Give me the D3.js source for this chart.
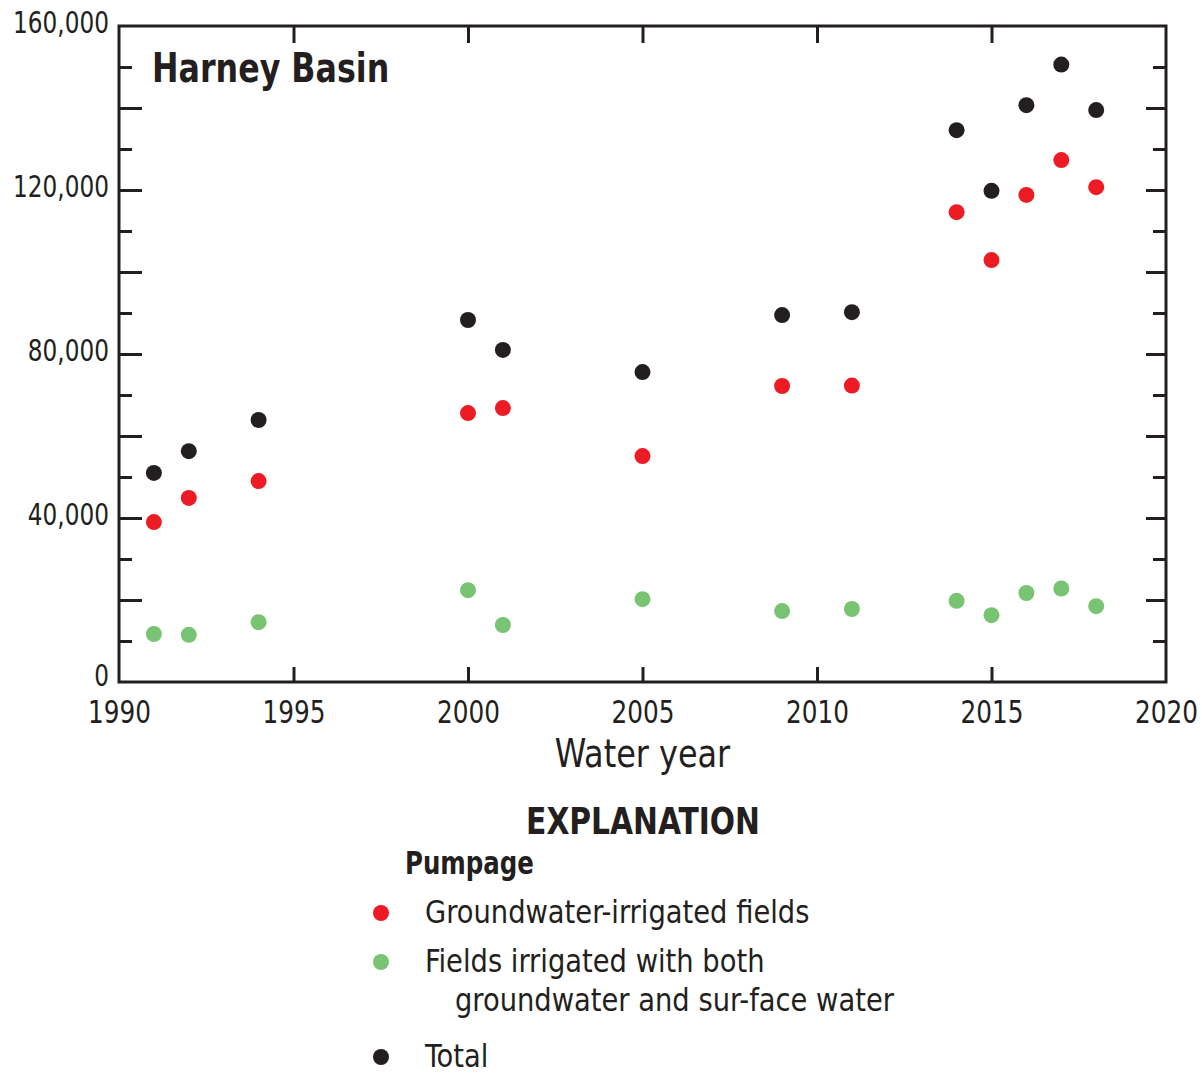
<!DOCTYPE html>
<html>
<head>
<meta charset="utf-8">
<script src="https://cdn.jsdelivr.net/npm/d3@7"></script>
<style>
  body { margin: 0; background: #fff; }
  svg text { font-family: "DejaVu Sans Condensed", "DejaVu Sans", sans-serif; fill: #231f20; }
</style>
</head>
<body>
<div id="wrapper"></div>
<script>
// data
const years = [1991, 1992, 1994, 2000, 2001, 2005, 2009, 2011, 2014, 2015, 2016, 2017, 2018]
const groundwater = [39000, 44900, 49000, 65600, 66800, 55100, 72200, 72300, 114600, 102900, 118800, 127300, 120700]
const bothSources = [11700, 11500, 14600, 22400, 13900, 20200, 17300, 17800, 19800, 16300, 21700, 22800, 18500]
const total = [51000, 56300, 63900, 88300, 81000, 75600, 89500, 90200, 134600, 119800, 140700, 150600, 139500]

const xTicks = [1990, 1995, 2000, 2005, 2010, 2015, 2020]
const yLabelTicks = [0, 40000, 80000, 120000, 160000]
const yMajorTicks = [20000, 40000, 60000, 80000, 100000, 120000, 140000]
const yMinorTicks = [10000, 30000, 50000, 70000, 90000, 110000, 130000, 150000]

const legendItems = [
    {label: ["Groundwater-irrigated fields"], color: "#ed1c24"},
    {label: ["Fields irrigated with both", "groundwater and sur-face water"], color: "#78c473"},
    {label: ["Total"], color: "#231f20"},
]

const series = [
    {values: groundwater, color: "#ed1c24"},
    {values: bothSources, color: "#78c473"},
    {values: total, color: "#231f20"},
]

const ink = "#231f20"

// squeeze text horizontally (the original uses a condensed face)
function condense(sel, k) {
    sel.each(function() {
        const t = d3.select(this)
        const x = +t.attr("x") || 0
        t.attr("x", x / k).attr("transform", `scale(${k},1)`)
    })
}

let dimensions = {
    width: 1202,
    height: 1074,
    margin: {top: 26, right: 36, bottom: 392, left: 119},
}
dimensions.boundedWidth = dimensions.width - dimensions.margin.left - dimensions.margin.right
dimensions.boundedHeight = dimensions.height - dimensions.margin.top - dimensions.margin.bottom

const wrapper = d3.select("#wrapper")
    .append("svg")
    .attr("width", dimensions.width)
    .attr("height", dimensions.height)

const bounds = wrapper.append("g")
    .attr("transform", `translate(${dimensions.margin.left},${dimensions.margin.top})`)

const xScale = d3.scaleLinear()
    .domain([1990, 2020])
    .range([0, dimensions.boundedWidth])

const yScale = d3.scaleLinear()
    .domain([0, 160000])
    .range([dimensions.boundedHeight, 0])

// ticks (all pointing inward)
function tickAxis(gen, transform) {
    const g = bounds.append("g")
        .attr("transform", transform || null)
        .call(gen)
    g.select(".domain").remove()
    g.selectAll(".tick line").attr("stroke", ink).attr("stroke-width", 3)
    g.selectAll(".tick text").remove()
    return g
}

tickAxis(d3.axisLeft(yScale).tickValues(yMajorTicks).tickSize(-23))
tickAxis(d3.axisLeft(yScale).tickValues(yMinorTicks).tickSize(-13))
tickAxis(d3.axisRight(yScale).tickValues(yMajorTicks).tickSize(-20), `translate(${dimensions.boundedWidth},0)`)
tickAxis(d3.axisRight(yScale).tickValues(yMinorTicks).tickSize(-13), `translate(${dimensions.boundedWidth},0)`)
tickAxis(d3.axisTop(xScale).tickValues(xTicks.slice(1, -1)).tickSize(-17))
tickAxis(d3.axisBottom(xScale).tickValues(xTicks.slice(1, -1)).tickSize(-15), `translate(0,${dimensions.boundedHeight})`)

// frame
bounds.append("rect")
    .attr("width", dimensions.boundedWidth)
    .attr("height", dimensions.boundedHeight)
    .attr("fill", "none")
    .attr("stroke", ink)
    .attr("stroke-width", 3)

// tick labels
const yLabels = bounds.append("g")
    .call(d3.axisLeft(yScale).tickValues(yLabelTicks).tickSize(0).tickPadding(10).tickFormat(d3.format(",")))
yLabels.select(".domain").remove()
yLabels.selectAll(".tick text")
    .style("font-size", "30px")
    .attr("dy", d => d === 0 ? "0.1em" : "0.22em")
condense(yLabels.selectAll(".tick text"), 0.86)

const xLabels = bounds.append("g")
    .attr("transform", `translate(0,${dimensions.boundedHeight})`)
    .call(d3.axisBottom(xScale).tickValues(xTicks).tickSize(0).tickPadding(18).tickFormat(d3.format("d")))
xLabels.select(".domain").remove()
xLabels.selectAll(".tick text")
    .style("font-size", "32px")
condense(xLabels.selectAll(".tick text"), 0.86)

bounds.append("text")
    .attr("x", dimensions.boundedWidth / 2)
    .attr("y", 741)
    .attr("text-anchor", "middle")
    .style("font-size", "39px")
    .text("Water year")
    .call(condense, 0.91)

bounds.append("text")
    .attr("x", 33)
    .attr("y", 56)
    .style("font-size", "41px")
    .style("font-weight", "bold")
    .text("Harney Basin")
    .call(condense, 0.86)

// points
series.forEach(s => {
    bounds.append("g")
        .selectAll("circle")
        .data(years)
        .join("circle")
        .attr("cx", d => xScale(d))
        .attr("cy", (d, i) => yScale(s.values[i]))
        .attr("r", 8)
        .attr("fill", s.color)
})

// explanation
const legend = wrapper.append("g")

legend.append("text")
    .attr("x", 643)
    .attr("y", 834)
    .attr("text-anchor", "middle")
    .style("font-size", "38px")
    .style("font-weight", "bold")
    .text("EXPLANATION")
    .call(condense, 0.87)

legend.append("text")
    .attr("x", 405)
    .attr("y", 874)
    .style("font-size", "32px")
    .style("font-weight", "bold")
    .text("Pumpage")
    .call(condense, 0.85)

const legendY = [913, 962, 1057]
legendItems.forEach((item, i) => {
    legend.append("circle")
        .attr("cx", 381)
        .attr("cy", legendY[i])
        .attr("r", 8)
        .attr("fill", item.color)
    item.label.forEach((line, j) => {
        legend.append("text")
            .attr("x", j === 0 ? 425 : 455)
            .attr("y", legendY[i] + 10 + j * 39)
            .style("font-size", "32px")
            .text(line)
            .call(condense, 0.95)
    })
})
</script>
</body>
</html>
